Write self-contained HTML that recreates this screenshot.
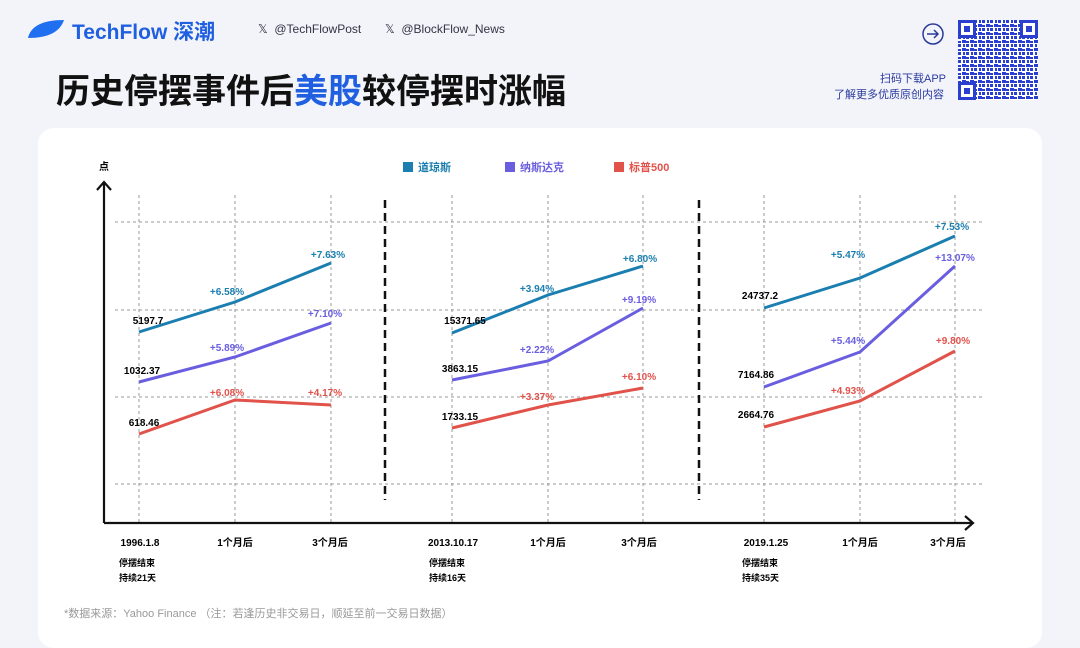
<!DOCTYPE html><html><head><meta charset="utf-8"><style>
body{margin:0;width:1080px;height:637px;background:#f3f4fa;font-family:"Liberation Sans","Noto Sans CJK SC",sans-serif;overflow:hidden;position:relative}
.a{position:absolute;white-space:nowrap}
</style></head><body>
<svg class="a" style="left:24px;top:18px" width="42" height="22"><path d="M4 20 Q8 2 40 2 Q34 20 4 20Z" fill="#1f6ff0"/></svg>
<div class="a" style="left:72px;top:16px;font-size:21px;font-weight:bold;color:#1f5fe0">TechFlow 深潮</div>
<div class="a" style="left:258px;top:22px;font-size:12px;color:#334">𝕏 &nbsp;@TechFlowPost</div>
<div class="a" style="left:385px;top:22px;font-size:12px;color:#334">𝕏 &nbsp;@BlockFlow_News</div>
<div class="a" style="left:56px;top:64px;font-size:34px;font-weight:bold;color:#111">历史停摆事件后<span style="color:#1f5fe0">美股</span>较停摆时涨幅</div>
<svg class="a" style="left:921px;top:22px" width="24" height="24"><circle cx="12" cy="12" r="10" fill="none" stroke="#2a3a9a" stroke-width="1.5"/><path d="M6 12h11M13 8l4 4-4 4" fill="none" stroke="#2a3a9a" stroke-width="1.5"/></svg>
<div class="a" style="left:880px;top:70px;font-size:11px;color:#2a3aa0">扫码下载APP</div>
<div class="a" style="left:834px;top:86px;font-size:11px;color:#2a3aa0">了解更多优质原创内容</div>
<svg class="a" style="left:958px;top:20px" width="80" height="80"><defs><pattern id="q" width="8" height="8" patternUnits="userSpaceOnUse"><rect width="8" height="8" fill="#fff"/><rect x="0" y="0" width="3" height="3" fill="#2a3fd0"/><rect x="4" y="4" width="4" height="3" fill="#2a3fd0"/><rect x="5" y="0" width="2" height="3" fill="#2a3fd0"/><rect x="0" y="5" width="3" height="2" fill="#2a3fd0"/></pattern></defs><rect width="80" height="80" fill="url(#q)"/><g fill="#2a3fd0"><rect x="0" y="0" width="18" height="18"/><rect x="62" y="0" width="18" height="18"/><rect x="0" y="62" width="18" height="18"/></g><g fill="#fff"><rect x="3" y="3" width="12" height="12"/><rect x="65" y="3" width="12" height="12"/><rect x="3" y="65" width="12" height="12"/></g><g fill="#2a3fd0"><rect x="6" y="6" width="6" height="6"/><rect x="68" y="6" width="6" height="6"/><rect x="6" y="68" width="6" height="6"/></g></svg>
<div class="a" style="left:38px;top:128px;width:1004px;height:520px;background:#fff;border-radius:16px"></div>
<svg class="a" style="left:0;top:0" width="1080" height="637" font-family="Liberation Sans,Noto Sans CJK SC,sans-serif">
<g stroke="#999" stroke-dasharray="3,3" stroke-width="1">
<line x1="115" y1="222" x2="985" y2="222"/><line x1="115" y1="310" x2="985" y2="310"/><line x1="115" y1="397" x2="985" y2="397"/><line x1="115" y1="484" x2="985" y2="484"/>
<line x1="139" y1="195" x2="139" y2="523"/><line x1="235" y1="195" x2="235" y2="523"/><line x1="331" y1="195" x2="331" y2="523"/>
<line x1="452" y1="195" x2="452" y2="523"/><line x1="548" y1="195" x2="548" y2="523"/><line x1="643" y1="195" x2="643" y2="523"/>
<line x1="764" y1="195" x2="764" y2="523"/><line x1="860" y1="195" x2="860" y2="523"/><line x1="955" y1="195" x2="955" y2="523"/>
</g>
<g stroke="#111" stroke-width="2.5" stroke-dasharray="8,5"><line x1="385" y1="200" x2="385" y2="500"/><line x1="699" y1="200" x2="699" y2="500"/></g>
<g stroke="#111" stroke-width="2.2" fill="none"><line x1="104" y1="182" x2="104" y2="523"/><path d="M97 190 L104 182 L111 190"/><line x1="104" y1="523" x2="973" y2="523"/><path d="M965 516 L973 523 L965 530"/></g>
<text x="99" y="170" font-size="10" font-weight="bold">点</text>
<rect x="403" y="162" width="10" height="10" fill="#1a7fb0"/><text x="418" y="171" font-size="11" font-weight="bold" fill="#1a7fb0">道琼斯</text>
<rect x="505" y="162" width="10" height="10" fill="#6a5ee0"/><text x="520" y="171" font-size="11" font-weight="bold" fill="#6a5ee0">纳斯达克</text>
<rect x="614" y="162" width="10" height="10" fill="#e0524a"/><text x="629" y="171" font-size="11" font-weight="bold" fill="#e0524a">标普500</text>
<g fill="none" stroke-width="3">
<polyline stroke="#1a7fb0" points="139,332 235,302 331,263"/><polyline stroke="#6a5ee0" points="139,382 235,357 331,323"/><polyline stroke="#e0524a" points="139,434 235,400 331,405"/>
<polyline stroke="#1a7fb0" points="452,333 548,295 643,266"/><polyline stroke="#6a5ee0" points="452,380 548,361 643,308"/><polyline stroke="#e0524a" points="452,428 548,405 643,388"/>
<polyline stroke="#1a7fb0" points="764,308 860,278 955,236"/><polyline stroke="#6a5ee0" points="764,387 860,352 955,266"/><polyline stroke="#e0524a" points="764,427 860,401 955,351"/>
</g>
<g font-size="10" font-weight="bold" text-anchor="middle">
<text x="148" y="324">5197.7</text><text x="142" y="374">1032.37</text><text x="144" y="426">618.46</text>
<text x="465" y="324">15371.65</text><text x="460" y="372">3863.15</text><text x="460" y="420">1733.15</text>
<text x="760" y="299">24737.2</text><text x="756" y="378">7164.86</text><text x="756" y="418">2664.76</text>
<g fill="#1a7fb0"><text x="227" y="295">+6.58%</text><text x="328" y="258">+7.63%</text><text x="537" y="292">+3.94%</text><text x="640" y="262">+6.80%</text><text x="848" y="258">+5.47%</text><text x="952" y="230">+7.53%</text></g>
<g fill="#6a5ee0"><text x="227" y="351">+5.89%</text><text x="325" y="317">+7.10%</text><text x="537" y="353">+2.22%</text><text x="639" y="303">+9.19%</text><text x="848" y="344">+5.44%</text><text x="955" y="261">+13.07%</text></g>
<g fill="#e0524a"><text x="227" y="396">+6.08%</text><text x="325" y="396">+4.17%</text><text x="537" y="400">+3.37%</text><text x="639" y="380">+6.10%</text><text x="848" y="394">+4.93%</text><text x="953" y="344">+9.80%</text></g>
<text x="140" y="546">1996.1.8</text><text x="235" y="546">1个月后</text><text x="330" y="546">3个月后</text>
<text x="453" y="546">2013.10.17</text><text x="548" y="546">1个月后</text><text x="639" y="546">3个月后</text>
<text x="766" y="546">2019.1.25</text><text x="860" y="546">1个月后</text><text x="948" y="546">3个月后</text>
</g>
<g font-size="9" font-weight="bold"><text x="119" y="566">停摆结束</text><text x="119" y="581">持续21天</text><text x="429" y="566">停摆结束</text><text x="429" y="581">持续16天</text><text x="742" y="566">停摆结束</text><text x="742" y="581">持续35天</text></g>
<text x="64" y="617" font-size="11" fill="#999">*数据来源：Yahoo Finance （注：若逢历史非交易日，顺延至前一交易日数据）</text>
</svg>
</body></html>
